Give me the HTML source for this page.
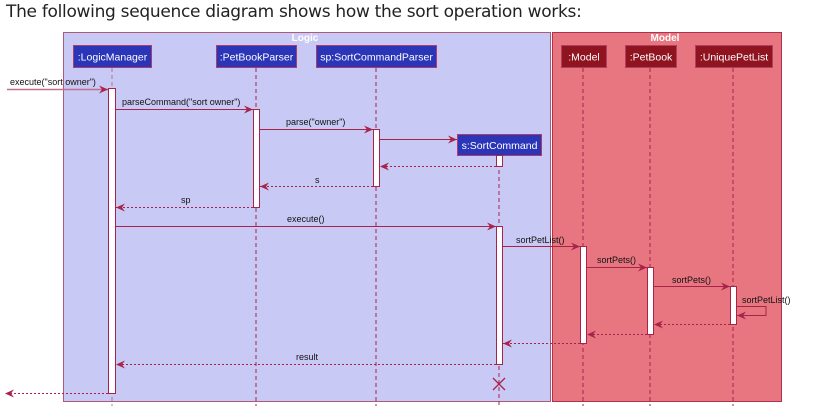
<!DOCTYPE html>
<html><head><meta charset="utf-8">
<style>
html,body{margin:0;padding:0;background:#fff;}
body{width:814px;height:414px;overflow:hidden;position:relative;font-family:"Liberation Sans",sans-serif;}
.t{position:absolute;left:6px;top:2px;font-size:17px;color:#222;font-family:"DejaVu Sans","Liberation Sans",sans-serif;letter-spacing:-0.3px;}
svg{position:absolute;left:0;top:0;}
svg text{font-family:"Liberation Sans",sans-serif;}
</style></head><body>
<div class="t">The following sequence diagram shows how the sort operation works:</div>
<svg width="814" height="414" viewBox="0 0 814 414">
<defs>
<marker id="a" markerWidth="10" markerHeight="8" refX="9" refY="4" orient="auto" markerUnits="userSpaceOnUse">
<path d="M0,0 L9,4 L0,8 L3,4 Z" fill="#a8234a"/></marker>
</defs>
<rect x="63.5" y="32.5" width="487" height="369" fill="#c9c9f5" stroke="#b05a78" stroke-width="1"/>
<rect x="552.5" y="32.5" width="229" height="369" fill="#e87680" stroke="#b03050" stroke-width="1"/>
<text x="305" y="41" font-size="10" font-weight="bold" fill="#fff" text-anchor="middle">Logic</text>
<text x="665" y="41" font-size="10" font-weight="bold" fill="#fff" text-anchor="middle">Model</text>
<g stroke="#a8234a" stroke-width="1" stroke-dasharray="4,3" fill="none">
<line x1="112" y1="68" x2="112" y2="406" stroke="#c07090"/>
<line x1="256" y1="68" x2="256" y2="406"/>
<line x1="376" y1="68" x2="376" y2="406"/>
<line x1="499" y1="156" x2="499" y2="406"/>
<line x1="583" y1="68" x2="583" y2="406"/>
<line x1="650" y1="68" x2="650" y2="406"/>
<line x1="733" y1="68" x2="733" y2="406"/>
</g>
<g font-size="10.5" fill="#fff" text-anchor="middle">
<rect x="73.5" y="45.5" width="78" height="22" fill="#2a35b8" stroke="#b03a6a"/><text x="112.5" y="60.5" fill="#fff">:LogicManager</text>
<rect x="216.5" y="45.5" width="80" height="22" fill="#2a35b8" stroke="#b03a6a"/><text x="256.5" y="60.5" fill="#fff">:PetBookParser</text>
<rect x="316.5" y="45.5" width="120" height="22" fill="#2a35b8" stroke="#b03a6a"/><text x="376.5" y="60.5" fill="#fff">sp:SortCommandParser</text>
<rect x="457.5" y="134.5" width="84" height="21" fill="#2a35b8" stroke="#b03a6a"/><text x="499.5" y="149" fill="#fff">s:SortCommand</text>
<rect x="561.5" y="45.5" width="45" height="22" fill="#8f1420" stroke="#b04060"/><text x="584" y="60.5" fill="#fff">:Model</text>
<rect x="625.5" y="45.5" width="51" height="22" fill="#8f1420" stroke="#b04060"/><text x="651" y="60.5" fill="#fff">:PetBook</text>
<rect x="695.5" y="45.5" width="77" height="22" fill="#8f1420" stroke="#b04060"/><text x="734" y="60.5" fill="#fff">:UniquePetList</text>
</g>
<g fill="#fff" stroke="#a8234a" stroke-width="1">
<rect x="108.5" y="88.5" width="7" height="305"/>
<rect x="253.5" y="109.5" width="6" height="98"/>
<rect x="373.5" y="129.5" width="6" height="57"/>
<rect x="496.5" y="155.5" width="6" height="11"/>
<rect x="496.5" y="226.5" width="6" height="138"/>
<rect x="580.5" y="246.5" width="6" height="97"/>
<rect x="647.5" y="267.5" width="6" height="67"/>
<rect x="730.5" y="286.5" width="6" height="38"/>
</g>
<g stroke="#a8234a" stroke-width="1" fill="none" marker-end="url(#a)">
<line x1="7" y1="89.5" x2="108" y2="89.5" stroke="#c07090" stroke-width="1.5"/>
<line x1="116" y1="109.5" x2="253" y2="109.5"/>
<line x1="260" y1="129.5" x2="373" y2="129.5"/>
<line x1="380" y1="139.5" x2="457" y2="139.5"/>
<line x1="116" y1="226.5" x2="496" y2="226.5"/>
<line x1="503" y1="246.5" x2="580" y2="246.5"/>
<line x1="587" y1="267.5" x2="647" y2="267.5"/>
<line x1="654" y1="286.5" x2="730" y2="286.5"/>
<polyline points="737,306.5 766,306.5 766,315.5 737,315.5"/>
</g>
<g stroke="#a8234a" stroke-width="1" fill="none" stroke-dasharray="2,2" marker-end="url(#a)">
<line x1="496" y1="166.5" x2="380" y2="166.5"/>
<line x1="373" y1="186.5" x2="260" y2="186.5"/>
<line x1="253" y1="207.5" x2="116" y2="207.5"/>
<line x1="730" y1="324.5" x2="654" y2="324.5"/>
<line x1="647" y1="334.5" x2="587" y2="334.5"/>
<line x1="580" y1="343.5" x2="503" y2="343.5"/>
<line x1="496" y1="364.5" x2="116" y2="364.5"/>
<line x1="108" y1="393.5" x2="5" y2="393.5"/>
</g>
<g stroke="#a8234a" stroke-width="1.3"><line x1="493" y1="378" x2="505" y2="390"/><line x1="505" y1="378" x2="493" y2="390"/></g>
<g font-size="9" fill="#111">
<text x="10" y="85">execute("sort owner")</text>
<text x="122" y="105">parseCommand("sort owner")</text>
<text x="286" y="125">parse("owner")</text>
<text x="315" y="183">s</text>
<text x="181" y="203">sp</text>
<text x="287" y="222">execute()</text>
<text x="516" y="243">sortPetList()</text>
<text x="597" y="263">sortPets()</text>
<text x="672" y="283">sortPets()</text>
<text x="742" y="303">sortPetList()</text>
<text x="296" y="360">result</text>
</g>
</svg>
</body></html>
